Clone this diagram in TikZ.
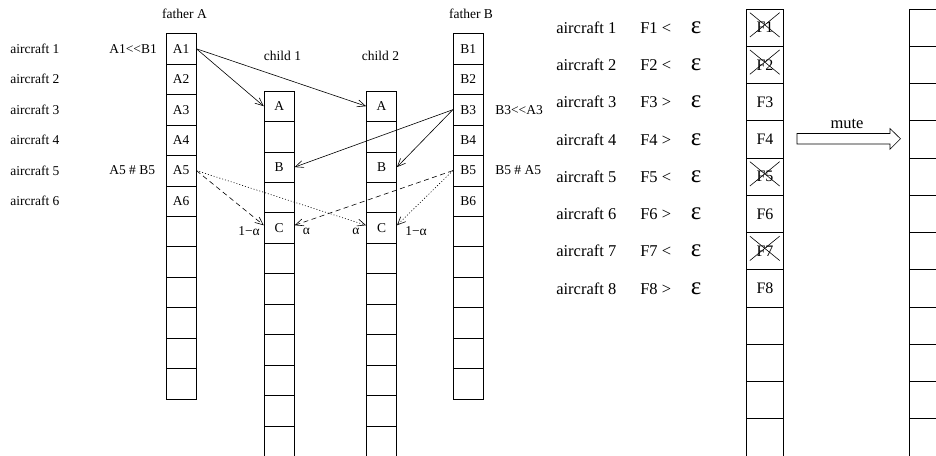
\documentclass[tikz,border=0pt]{standalone}
\usepackage{fontspec}
\setmainfont{Liberation Serif}
\usetikzlibrary{arrows.meta,calc}
\begin{document}
\begin{tikzpicture}[x=1pt,y=-1pt, line width=0.6pt,
  cellA/.style={draw, minimum width=30.3pt, minimum height=30.45pt, inner sep=0pt, font=\fontsize{13.5}{16}\selectfont},
  cellF/.style={draw, minimum width=36.7pt, minimum height=37.25pt, inner sep=0pt, font=\fontsize{16}{19}\selectfont},
  lblS/.style={font=\fontsize{13.5}{16}\selectfont, inner sep=0pt},
  lblL/.style={font=\fontsize{16.5}{19}\selectfont, inner sep=0pt},
  link/.style={-{Straight Barb[length=8pt,width=7pt]}},
  dashedlink/.style={link, dash pattern=on 5pt off 3.5pt},
  dottedlink/.style={link, dash pattern=on 1pt off 2pt},
  crossline/.style={line width=0.6pt}]
\useasboundingbox (0,0) rectangle (936,455);
\begin{scope}
\clip (0,0) rectangle (936,455);
% father A
\foreach \k in {1,...,12}
  \node[cellA] (fa\k) at (181, {48.8+30.45*(\k-1)}) {\ifnum\k<7 A\k\fi};
% father B
\foreach \k in {1,...,12}
  \node[cellA] (fb\k) at (468.3, {48.8+30.45*(\k-1)}) {\ifnum\k<7 B\k\fi};
% child 1
\foreach \k in {1,...,12}
  \node[cellA] (ca\k) at (279.2, {106.2+30.45*(\k-1)}) {\ifcase\k\or A\or\or B\or\or C\fi};
% child 2
\foreach \k in {1,...,12}
  \node[cellA] (cb\k) at (381.5, {106.2+30.45*(\k-1)}) {\ifcase\k\or A\or\or B\or\or C\fi};
% F column
\foreach \k in {1,...,12}
  \node[cellF] (f\k) at (765, {27.6+37.25*(\k-1)}) {\ifnum\k<9 F\k\fi};
% right column
\foreach \k in {1,...,12}
  \node[cellF] (g\k) at (927.7, {27.6+37.25*(\k-1)}) {};
\end{scope}

% titles
\node[lblS] (tfa) at (184.5,14) {father A};
\node[lblS] (tfb) at (471,14) {father B};
\node[lblS] (tc1) at (282.5,56) {child 1};
\node[lblS] (tc2) at (380.5,56) {child 2};

% left aircraft labels
\foreach \k in {1,...,6}
  \node[lblS, anchor=west] (la\k) at (10, {48.8+30.45*(\k-1)}) {aircraft \k};
\node[lblS, anchor=west] (r1) at (109,48.8) {A1<\kern0pt<B1};
\node[lblS, anchor=west] (r5) at (109,170.6) {A5 \# B5};
\node[lblS, anchor=west] (r3) at (495,109.7) {B3<\kern0pt<A3};
\node[lblS, anchor=west] (r5b) at (495,170.6) {B5 \# A5};

% alpha labels
\node[lblS] (al1) at (249,231) {1−α};
\node[lblS] (al2) at (306.5,231) {α};
\node[lblS] (al3) at (356,231) {α};
\node[lblS] (al4) at (416,231) {1−α};

% links
\draw[link] (fa1.east) -- (ca1.west);
\draw[link] (fa1.east) -- (cb1.west);
\draw[link] (fb3.west) -- (ca3.east);
\draw[link] (fb3.west) -- (cb3.east);
\draw[dashedlink] (fa5.east) -- (ca5.170);
\draw[dottedlink] (fa5.east) -- (cb5.170);
\draw[dashedlink] (fb5.west) -- (ca5.10);
\draw[dottedlink] (fb5.west) -- (cb5.10);

% right labels
\foreach \k/\s in {1/<,2/<,3/>,4/>,5/<,6/>,7/<,8/>} {
  \node[lblL, anchor=base west] (ra\k) at (556, {33.3+37.25*(\k-1)}) {aircraft \k};
  \node[lblL, anchor=base west] (rf\k) at (640, {33.3+37.25*(\k-1)}) {F\k\ \s\hspace{1.2em}{\fontsize{25}{25}\selectfont ε}};
}

% crosses
\foreach \k in {1,2,5,7} {
  \draw[crossline] ($(f\k.north west)+(3.5,4)$) -- ($(f\k.south east)+(-4,-9.5)$);
  \draw[crossline] ($(f\k.north east)+(-4,4)$) -- ($(f\k.south west)+(3.5,-9.5)$);
}

% mute arrow
\draw (797,133.5) -- (890,133.5) -- (890,128.5) -- (900.5,138.8) -- (890,149.3) -- (890,144) -- (797,144) -- cycle;
\node[lblL] (mute) at (847,124) {mute};
\end{tikzpicture}
\end{document}
